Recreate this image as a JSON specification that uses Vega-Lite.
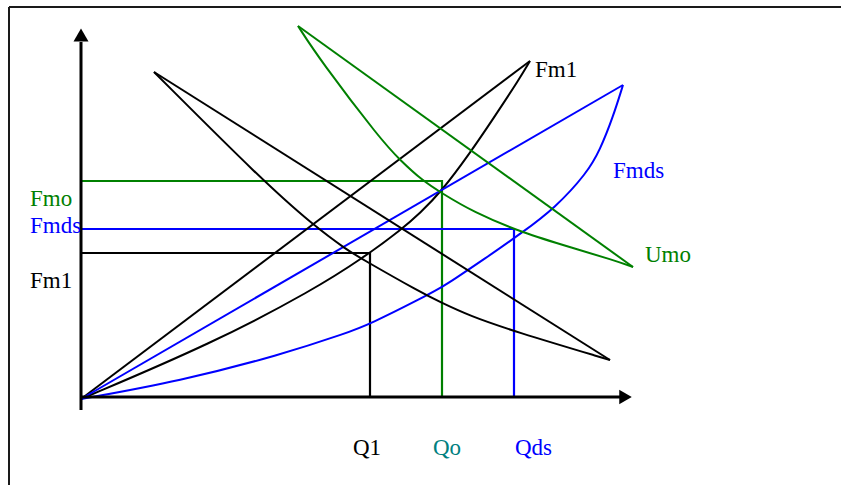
{
  "$schema": "https://vega.github.io/schema/vega-lite/v6.json",
  "width": 841,
  "height": 485,
  "padding": 0,
  "autosize": {"type": "none"},
  "background": "white",
  "config": {"view": {"stroke": null}},
  "datasets": {
    "curves": [
      {"curve": "a", "group": "Fm1", "q": 0, "p": 0},
      {"curve": "a", "group": "Fm1", "q": 449, "p": 338},
      {"curve": "b", "group": "Fm1", "q": 0, "p": 0},
      {"curve": "b", "group": "Fm1", "q": 132, "p": 56},
      {"curve": "b", "group": "Fm1", "q": 232, "p": 109},
      {"curve": "b", "group": "Fm1", "q": 282, "p": 141},
      {"curve": "b", "group": "Fm1", "q": 321, "p": 170},
      {"curve": "b", "group": "Fm1", "q": 339, "p": 186},
      {"curve": "b", "group": "Fm1", "q": 360, "p": 207},
      {"curve": "b", "group": "Fm1", "q": 389, "p": 246},
      {"curve": "b", "group": "Fm1", "q": 412, "p": 280},
      {"curve": "b", "group": "Fm1", "q": 439, "p": 321},
      {"curve": "b", "group": "Fm1", "q": 449, "p": 338},
      {"curve": "c", "group": "Fmds", "q": 0, "p": 0},
      {"curve": "c", "group": "Fmds", "q": 542, "p": 314},
      {"curve": "d", "group": "Fmds", "q": 0, "p": 0},
      {"curve": "d", "group": "Fmds", "q": 99, "p": 18},
      {"curve": "d", "group": "Fmds", "q": 199, "p": 44},
      {"curve": "d", "group": "Fmds", "q": 266, "p": 66},
      {"curve": "d", "group": "Fmds", "q": 289, "p": 75},
      {"curve": "d", "group": "Fmds", "q": 339, "p": 100},
      {"curve": "d", "group": "Fmds", "q": 361, "p": 112},
      {"curve": "d", "group": "Fmds", "q": 372, "p": 119},
      {"curve": "d", "group": "Fmds", "q": 402, "p": 139},
      {"curve": "d", "group": "Fmds", "q": 442, "p": 167},
      {"curve": "d", "group": "Fmds", "q": 474, "p": 191},
      {"curve": "d", "group": "Fmds", "q": 506, "p": 226},
      {"curve": "d", "group": "Fmds", "q": 519, "p": 249},
      {"curve": "d", "group": "Fmds", "q": 532, "p": 282},
      {"curve": "d", "group": "Fmds", "q": 542, "p": 314},
      {"curve": "e", "group": "Umo", "q": 217, "p": 373},
      {"curve": "e", "group": "Umo", "q": 552, "p": 132},
      {"curve": "f", "group": "Umo", "q": 217, "p": 373},
      {"curve": "f", "group": "Umo", "q": 239, "p": 339},
      {"curve": "f", "group": "Umo", "q": 300, "p": 259},
      {"curve": "f", "group": "Umo", "q": 319, "p": 239},
      {"curve": "f", "group": "Umo", "q": 342, "p": 218},
      {"curve": "f", "group": "Umo", "q": 359, "p": 207},
      {"curve": "f", "group": "Umo", "q": 392, "p": 187},
      {"curve": "f", "group": "Umo", "q": 442, "p": 166},
      {"curve": "f", "group": "Umo", "q": 492, "p": 151},
      {"curve": "f", "group": "Umo", "q": 532, "p": 139},
      {"curve": "f", "group": "Umo", "q": 552, "p": 132},
      {"curve": "g", "group": "Fm1", "q": 73, "p": 327},
      {"curve": "g", "group": "Fm1", "q": 529, "p": 39},
      {"curve": "h", "group": "Fm1", "q": 73, "p": 327},
      {"curve": "h", "group": "Fm1", "q": 182, "p": 218},
      {"curve": "h", "group": "Fm1", "q": 232, "p": 174},
      {"curve": "h", "group": "Fm1", "q": 266, "p": 149},
      {"curve": "h", "group": "Fm1", "q": 281, "p": 140},
      {"curve": "h", "group": "Fm1", "q": 339, "p": 107},
      {"curve": "h", "group": "Fm1", "q": 359, "p": 97},
      {"curve": "h", "group": "Fm1", "q": 389, "p": 83},
      {"curve": "h", "group": "Fm1", "q": 432, "p": 68},
      {"curve": "h", "group": "Fm1", "q": 529, "p": 39}
    ],
    "guides": [
      {"group": "Fm1", "k": 0, "q": 0, "p": 146},
      {"group": "Fm1", "k": 1, "q": 289, "p": 146},
      {"group": "Fm1", "k": 2, "q": 289, "p": 2},
      {"group": "Umo", "k": 0, "q": 0, "p": 218},
      {"group": "Umo", "k": 1, "q": 361, "p": 218},
      {"group": "Umo", "k": 2, "q": 361, "p": 2},
      {"group": "Fmds", "k": 0, "q": 0, "p": 170},
      {"group": "Fmds", "k": 1, "q": 433, "p": 170},
      {"group": "Fmds", "k": 2, "q": 433, "p": 2}
    ],
    "rules": [
      {"kind": "axis", "q": 0, "q2": 540, "p": 2, "p2": 2},
      {"kind": "axis", "q": 0, "q2": 0, "p": -11, "p2": 357},
      {"kind": "frame", "q": -72, "q2": 770, "p": 392, "p2": 392},
      {"kind": "frame", "q": -72, "q2": -72, "p": 392, "p2": -95}
    ],
    "arrows": [
      {"dir": "right", "q": 544.5, "p": 2},
      {"dir": "up", "q": 0, "p": 364}
    ],
    "labels": [
      {"text": "Fmo", "group": "Umo", "q": -51, "p": 193},
      {"text": "Fmds", "group": "Fmds", "q": -51, "p": 166},
      {"text": "Fm1", "group": "Fm1", "q": -51, "p": 111},
      {"text": "Q1", "group": "Fm1", "q": 272, "p": -56},
      {"text": "Qo", "group": "Qo", "q": 352, "p": -56},
      {"text": "Qds", "group": "Fmds", "q": 434, "p": -56},
      {"text": "Fm1", "group": "Fm1", "q": 454, "p": 322},
      {"text": "Fmds", "group": "Fmds", "q": 532, "p": 221},
      {"text": "Umo", "group": "Umo", "q": 564, "p": 137}
    ]
  },
  "encoding": {
    "x": {"field": "q", "type": "quantitative", "scale": {"domain": [-81, 760], "nice": false, "zero": false}, "axis": null},
    "y": {"field": "p", "type": "quantitative", "scale": {"domain": [-86, 399], "nice": false, "zero": false}, "axis": null}
  },
  "layer": [
    {
      "data": {"name": "rules"},
      "transform": [{"filter": "datum.kind === 'frame'"}],
      "mark": {"type": "rule", "color": "#1a1a1a", "strokeWidth": 2},
      "encoding": {
        "x2": {"field": "q2"},
        "y2": {"field": "p2"}
      }
    },
    {
      "data": {"name": "guides"},
      "mark": {"type": "line", "strokeWidth": 2.2, "interpolate": "linear"},
      "encoding": {
        "order": {"field": "k", "type": "quantitative"},
        "detail": {"field": "group"},
        "color": {"field": "group", "type": "nominal", "scale": {"domain": ["Fm1", "Fmds", "Umo", "Qo"], "range": ["#000000", "#0000FF", "#008000", "#008080"]}, "legend": null}
      }
    },
    {
      "data": {"name": "curves"},
      "mark": {"type": "line", "strokeWidth": 2, "interpolate": "basis"},
      "encoding": {
        "detail": {"field": "curve"},
        "color": {"field": "group", "type": "nominal", "scale": {"domain": ["Fm1", "Fmds", "Umo", "Qo"], "range": ["#000000", "#0000FF", "#008000", "#008080"]}, "legend": null}
      }
    },
    {
      "data": {"name": "rules"},
      "transform": [{"filter": "datum.kind === 'axis'"}],
      "mark": {"type": "rule", "color": "#000000", "strokeWidth": 3},
      "encoding": {
        "x2": {"field": "q2"},
        "y2": {"field": "p2"}
      }
    },
    {
      "data": {"name": "arrows"},
      "transform": [{"filter": "datum.dir === 'right'"}],
      "mark": {"type": "point", "shape": "triangle-right", "size": 210, "filled": true, "color": "#000000", "opacity": 1, "strokeWidth": 0}
    },
    {
      "data": {"name": "arrows"},
      "transform": [{"filter": "datum.dir === 'up'"}],
      "mark": {"type": "point", "shape": "triangle-up", "size": 225, "filled": true, "color": "#000000", "opacity": 1, "strokeWidth": 0}
    },
    {
      "data": {"name": "labels"},
      "mark": {"type": "text", "align": "left", "baseline": "alphabetic", "font": "Liberation Serif", "fontSize": 23},
      "encoding": {
        "text": {"field": "text"},
        "color": {"field": "group", "type": "nominal", "scale": {"domain": ["Fm1", "Fmds", "Umo", "Qo"], "range": ["#000000", "#0000FF", "#008000", "#008080"]}, "legend": null}
      }
    }
  ]
}
